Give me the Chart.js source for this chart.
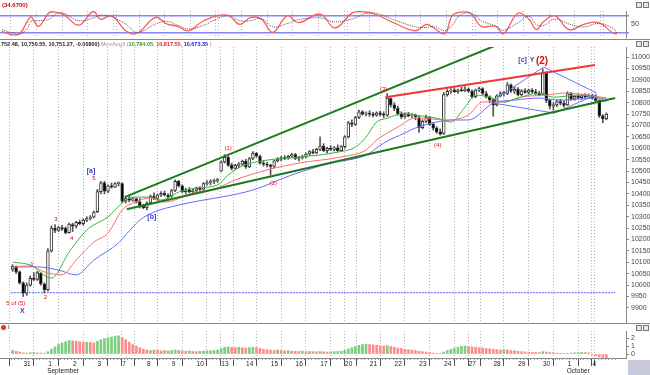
<!DOCTYPE html>
<html><head><meta charset="utf-8">
<script src="https://cdn.jsdelivr.net/npm/chart.js@4.4.1/dist/chart.umd.min.js"></script>
<style>
html,body{margin:0;padding:0;background:#fff;}
body{width:650px;height:375px;position:relative;overflow:hidden;}
canvas{position:absolute;left:0;}
.hl{position:absolute;left:0;width:650px;height:1px;}
</style></head><body>
<canvas id="osc" width="650" height="40" style="top:0px;width:650px;height:40px"></canvas>
<canvas id="main" width="650" height="283" style="top:40px;width:650px;height:283px"></canvas>
<canvas id="hist" width="650" height="52" style="top:323px;width:650px;height:52px"></canvas>
<div class="hl" style="top:39px;background:#8a8a8a"></div>
<div class="hl" style="top:323px;background:#8a8a8a"></div>
<div style="position:absolute;left:628px;top:360px;width:22px;height:15px;background:#c9c9dc"></div>
<script>
// ---------- data ----------
const dayStarts = [2.5,9.5,16.5,23.5,30.5,37.5,44.5,51.5,58.5,65.5,72.5,79.5,86.5,93.5,100.5,107.5,114.5,121.5,128.5,135.5,142.5,149.5,156.5,163.5];
const dayLabels = ['31','1','2','3','7','8','9','10','13','14','15','16','17','20','21','22','23','24','27','28','29','30','1','4'];
const weekStarts = [30.5,58.5,93.5,128.5,163.5];
const monthNames = ['September','October'];
const monthAt = [1,22];

const opens = [
10070,10080,10058,
10010,9965,10000,10030,10025,10052,10005,
9980,10150,10250,10240,10252,10250,10230,
10265,10258,10275,10270,10285,10292,10298,
10322,10410,10448,10412,10435,10430,10445,
10445,10368,10380,10372,10378,10365,10345,
10340,10360,10390,10380,10395,10402,10395,
10390,10415,10455,10435,10410,10418,10410,
10415,10425,10420,10445,10450,10455,10458,
10500,10540,10560,10525,10512,10525,10530,
10544,10518,10555,10578,10565,10535,10530,
10526,10520,10545,10552,10558,10555,10565,
10572,10555,10560,10562,10575,10585,10580,
10595,10610,10590,10600,10595,10602,10590,
10607,10650,10712,10705,10735,10760,10750,
10753,10750,10745,10755,10748,10745,10818,
10790,10775,10752,10738,10748,10742,10745,
10735,10690,10718,10735,10705,10688,10672,
10665,10835,10850,10855,10848,10856,10852,
10860,10850,10825,10855,10862,10840,10825,
10812,10790,10830,10840,10840,10878,10850,
10858,10835,10852,10845,10855,10848,10840,
10838,10930,10810,10785,10790,10805,10798,
10790,10840,10815,10828,10822,10830,10825,
10830,10820,10810,10742,10730];
const highs = [
10090,10085,10062,
10015,10010,10040,10055,10060,10055,10010,
10160,10260,10265,10258,10262,10255,10272,
10272,10280,10285,10290,10300,10305,10325,
10420,10455,10455,10440,10448,10450,10452,
10448,10385,10390,10385,10382,10380,10355,
10365,10395,10405,10400,10410,10412,10400,
10420,10462,10460,10440,10425,10428,10422,
10430,10432,10450,10458,10462,10465,10468,
10545,10572,10565,10535,10530,10538,10548,
10552,10560,10585,10582,10570,10545,10538,
10530,10548,10560,10565,10568,10570,10578,
10578,10565,10570,10580,10590,10595,10600,
10650,10620,10605,10612,10608,10615,10612,
10655,10718,10725,10740,10768,10765,10760,
10765,10758,10760,10762,10760,10840,10822,
10800,10785,10760,10755,10758,10752,10750,
10742,10725,10745,10740,10712,10695,10685,
10845,10858,10862,10865,10860,10868,10870,
10865,10856,10860,10868,10866,10850,10830,
10818,10835,10848,10850,10888,10882,10870,
10866,10858,10862,10860,10862,10858,10850,
10948,10935,10815,10800,10812,10815,10808,
10848,10845,10832,10838,10835,10840,10838,
10838,10835,10812,10748,10755];
const lows = [
10060,10050,10005,
9950,9955,9995,10020,10020,10000,9965,
9975,10145,10230,10235,10240,10225,10228,
10235,10250,10265,10262,10278,10285,10295,
10318,10400,10400,10405,10425,10428,10435,
10362,10360,10365,10368,10360,10338,10335,
10330,10355,10375,10372,10388,10390,10380,
10385,10410,10430,10405,10400,10405,10405,
10408,10415,10418,10438,10440,10445,10450,
10498,10535,10520,10505,10508,10515,10525,
10512,10515,10550,10560,10530,10522,10518,
10483,10515,10540,10545,10550,10552,10560,
10550,10545,10552,10558,10568,10575,10576,
10590,10585,10578,10590,10588,10585,10585,
10600,10645,10695,10700,10730,10745,10742,
10740,10738,10740,10742,10735,10740,10780,
10765,10745,10730,10732,10738,10735,10725,
10670,10685,10712,10700,10680,10665,10658,
10660,10828,10840,10845,10840,10850,10848,
10845,10820,10822,10848,10835,10820,10800,
10740,10785,10825,10828,10835,10845,10840,
10830,10830,10840,10838,10842,10835,10830,
10835,10800,10772,10768,10782,10790,10780,
10788,10810,10810,10818,10815,10820,10818,
10815,10800,10735,10712,10725];
const closes = [
10082,10058,10010,
9965,10000,10030,10025,10055,10005,9980,
10150,10250,10240,10252,10245,10230,10268,
10258,10275,10270,10285,10292,10298,10320,
10410,10448,10412,10435,10430,10445,10447,
10368,10380,10372,10378,10365,10345,10340,
10360,10390,10380,10395,10402,10395,10387,
10415,10455,10435,10410,10418,10410,10415,
10425,10420,10445,10450,10455,10458,10462,
10540,10560,10525,10512,10525,10530,10544,
10518,10555,10578,10565,10535,10530,10526,
10520,10545,10552,10558,10555,10565,10572,
10555,10560,10562,10575,10585,10580,10595,
10610,10590,10600,10595,10602,10590,10607,
10650,10712,10705,10735,10760,10750,10753,
10750,10745,10755,10748,10745,10820,10790,
10775,10752,10738,10748,10742,10745,10739,
10690,10718,10735,10705,10688,10672,10662,
10835,10850,10855,10848,10856,10852,10860,
10850,10825,10855,10862,10840,10825,10812,
10790,10830,10840,10845,10878,10850,10858,
10835,10852,10845,10855,10848,10840,10835,
10930,10810,10785,10790,10805,10798,10788,
10840,10815,10828,10822,10830,10825,10830,
10820,10810,10742,10730,10750];

const maGreenX = [0,5,11,16,21,23,27,31,34,39,42,47,52,58,61,65,72,81,92,97,100,103,106,111,114,120,124,128,131,135,139,143,149,153,160,165,168];
const maGreenY = [10101,10088,10031,10145,10242,10264,10299,10360,10386,10386,10373,10408,10426,10439,10483,10522,10548,10561,10583,10605,10649,10715,10732,10754,10745,10732,10715,10780,10833,10824,10802,10820,10842,10824,10833,10824,10805];
const maRedX = [0,5,9,14,18,23,27,31,34,39,43,51,58,63,72,81,93,100,103,109,114,123,129,133,139,144,151,156,163,168];
const maRedY = [10080,10084,10058,10045,10110,10189,10228,10329,10360,10382,10364,10404,10426,10461,10505,10535,10562,10592,10636,10693,10733,10724,10746,10803,10803,10825,10833,10842,10833,10820];
const maBlueX = [0,7,13,18,23,30,32,36,40,47,54,59,68,79,90,100,105,111,114,125,129,136,142,149,155,165,168];
const maBlueY = [10080,10080,10066,10045,10110,10185,10220,10285,10320,10351,10373,10386,10417,10483,10535,10570,10623,10667,10689,10724,10724,10798,10811,10820,10811,10820,10820];

const trendUpperX = [31.7,136.9];   const trendUpperY = [10386,11052];
const trendLowerX = [32.3,170.5];   const trendLowerY = [10333,10820];
const redLineX = [105.5,164.8];     const redLineY = [10824,10965];
const blueUpX = [136.1,150.3,165.3]; const blueUpY = [10811,10956,10842];
const blueLowX = [136.1,153.3,164.8]; const blueLowY = [10798,10754,10833];
const supportLevel = 9967;

const annText = ['5 of (5)','X','1','2','3','4','5','[a]','[b]','(1)','(2)','(3)','(4)','[c]','Y','(2)'];
const annX = [0.9,2.8,5.5,9.3,12.3,16.7,23,22.2,39.4,61,73.8,105,120.3,144.3,147,149.8];
const annY = [9922,9887,10093,9948,10290,10207,10469,10500,10299,10601,10448,10859,10614,10986,10986,10982];

const oscX = [0,3,5,7,8,10,13,15,17,21,25,27,30,34,37,42,45,48,51,55,59,62,65,68,71,74,78,81,87,91,96,100,103,107,113,116,118,121,123,125,128,131,135,137,141,144,146,148,151,155,159,163,167,168];
const oscFast = [24,11,17,61,76,42,92,92,84,46,96,67,80,24,17,74,51,42,26,61,80,80,49,74,67,20,80,55,86,36,92,92,80,55,26,49,36,15,80,92,89,42,42,15,89,67,30,59,80,30,49,55,17,14];
const oscSlow = [30,18,14,35,60,62,68,88,88,62,72,82,76,48,20,50,60,46,32,45,70,80,62,62,70,40,52,66,72,58,70,90,86,66,40,38,42,26,45,80,90,62,42,28,55,78,48,45,68,50,40,52,34,18];
const oscLevels = [20,50,80];

const histVals = [
0.45,0.35,0.25,
0.15,0.12,0.18,0.2,0.15,0.12,0.1,
0.3,0.6,0.9,1.2,1.4,1.55,1.7,
1.65,1.6,1.55,1.5,1.5,1.45,1.4,
1.6,1.8,1.95,2.05,2.15,2.25,2.3,
2.1,1.8,1.5,1.2,1.0,0.8,0.6,
0.5,0.45,0.5,0.45,0.4,0.45,0.4,
0.45,0.5,0.45,0.4,0.35,0.38,0.32,
0.3,0.33,0.36,0.4,0.42,0.45,0.5,
0.7,0.85,0.9,0.85,0.8,0.85,0.8,
0.75,0.8,0.85,0.8,0.7,0.6,0.55,
0.5,0.45,0.5,0.45,0.4,0.42,0.38,
0.35,0.33,0.35,0.3,0.32,0.3,0.28,
0.3,0.28,0.25,0.28,0.3,0.33,0.35,
0.45,0.65,0.8,0.95,1.1,1.2,1.25,
1.2,1.15,1.1,1.05,1.0,1.05,0.95,
0.85,0.75,0.7,0.6,0.55,0.5,0.45,
0.35,0.3,0.25,0.2,0.12,0.08,0.03,
0.25,0.45,0.6,0.75,0.85,0.95,1.0,
0.95,0.9,0.85,0.8,0.75,0.7,0.65,
0.6,0.55,0.5,0.55,0.5,0.45,0.4,
0.35,0.3,0.28,0.25,0.22,0.2,0.18,
0.3,0.25,0.2,0.15,0.12,0.1,0.08,
0.1,0.12,0.15,0.18,0.2,0.18,0.15,
-0.1,-0.2,-0.35,-0.45,-0.5];
const histTicks = [0,1,2];
const priceTicks = [];
for (let v = 9900; v <= 11000; v += 50) priceTicks.push(v);

// ---------- setup ----------
Chart.defaults.font.family = '"Liberation Sans", Arial, sans-serif';
Chart.defaults.font.size = 7;
Chart.defaults.color = '#333';
Chart.defaults.animation = false;
Chart.defaults.events = [];
Chart.defaults.plugins.legend.display = false;
Chart.defaults.plugins.tooltip.enabled = false;

const X_MIN = -0.5, X_MAX = 170.5, AXIS_W = 24;
const gridVals = dayStarts.concat(weekStarts.map(v => v + 0.8)).sort((a,b)=>a-b);
const pts = (xs, ys) => xs.map((x,k) => ({x, y: ys[k]}));
const idx = opens.map((_,i) => i);
const noPad = s => { s.paddingTop = 0; s.paddingBottom = 0; s.paddingLeft = 0; s.paddingRight = 0; };

function xGrid() {
  return {
    type:'linear', min:X_MIN, max:X_MAX, position:'bottom',
    afterBuildTicks: s => { s.ticks = gridVals.map(v => ({value:v})); },
    ticks:{display:false}, grid:{color:'#b5b5b5', drawTicks:false, lineWidth:1},
    border:{display:false, dash:[1,2]},
    afterFit: s => { s.height = 0; noPad(s); }
  };
}
function yRight(min, max, vals, cb, extra) {
  return Object.assign({
    type:'linear', position:'right', min, max,
    afterBuildTicks: s => { s.ticks = vals.map(v => ({value:v})); },
    afterFit: s => { s.width = AXIS_W; noPad(s); },
    ticks:{autoSkip:false, padding:2, font:{size:7}, color:'#444', callback: cb},
    grid:{drawOnChartArea:false, tickLength:3, color:'#888'},
    border:{display:true, color:'#888'}
  }, extra || {});
}
function drawTexts(ctx, segs, x, y) {
  ctx.save(); ctx.textBaseline = 'middle'; ctx.textAlign = 'left';
  segs.forEach(s => { ctx.font = s.f; ctx.fillStyle = s.c; ctx.fillText(s.t, x, y); x += ctx.measureText(s.t).width; });
  ctx.restore();
}
function icons(ctx, y) {
  ctx.save(); ctx.strokeStyle = '#777'; ctx.fillStyle = '#e8e8e8';
  [636, 643].forEach(x => { ctx.fillRect(x, y, 5, 5); ctx.strokeRect(x + 0.5, y + 0.5, 5, 5); });
  ctx.restore();
}

// ---------- oscillator panel ----------
new Chart(document.getElementById('osc'), {
  type:'line',
  data:{datasets:[
    {data:pts(oscX, oscSlow), borderColor:'#555', borderWidth:1, borderDash:[1,1], pointRadius:0, tension:0.4},
    {data:pts(oscX, oscFast), borderColor:'#ff5a5a', borderWidth:1.3, pointRadius:0, tension:0.4}
  ]},
  options:{responsive:false, layout:{padding:{top:11, bottom:2}},
    scales:{
      x: xGrid(),
      y: yRight(0, 97, oscLevels, v => v === 50 ? '50' : '', {
        grid:{drawOnChartArea:true, tickLength:3, lineWidth:1.5, color: c => c.tick && c.tick.value === 50 ? 'rgba(0,0,0,0)' : '#8585ff'}
      })
    }},
  plugins:[{id:'oschdr', afterDraw(ch){
    const ctx = ch.ctx;
    drawTexts(ctx, [{t:'(34.6700)', c:'#e00000', f:'bold 6px "Liberation Sans"'}], 2, 5);
    icons(ctx, 2);
  }}]
});

// ---------- main price panel ----------
const wickData = idx.map(i => ({x:i, y:[lows[i], highs[i]]}));
const bodyData = idx.map(i => ({x:i, y:[Math.min(opens[i],closes[i]), Math.max(opens[i],closes[i])]}));
const lineDs = (xs, ys, color, w, extra) => Object.assign({type:'line', data:pts(xs, ys), borderColor:color, borderWidth:w, pointRadius:0, tension:0}, extra||{});

new Chart(document.getElementById('main'), {
  type:'bar',
  data:{datasets:[
    lineDs([X_MIN, X_MAX], [supportLevel, supportLevel], '#7b7bff', 1.3, {order:9, borderDash:[2,1]}),
    {type:'bar', data:wickData, backgroundColor:'#555', grouped:false, maxBarThickness:1, barPercentage:1, categoryPercentage:1, order:8},
    {type:'bar', data:bodyData, grouped:false, maxBarThickness:3, barPercentage:1, categoryPercentage:1, minBarLength:1, order:7,
      backgroundColor: c => closes[c.dataIndex] >= opens[c.dataIndex] ? '#ffffff' : '#000000',
      borderColor:'#333', borderWidth:1, borderSkipped:false},
    lineDs(maBlueX, maBlueY, '#6a6aff', 1, {order:6, tension:0.4, cubicInterpolationMode:'monotone'}),
    lineDs(maRedX, maRedY, '#ff6a6a', 1, {order:5, tension:0.4, cubicInterpolationMode:'monotone'}),
    lineDs(maGreenX, maGreenY, '#3cb43c', 1, {order:4, tension:0.4, cubicInterpolationMode:'monotone'}),
    lineDs(blueUpX, blueUpY, '#7070f0', 1, {order:3}),
    lineDs(blueLowX, blueLowY, '#7070f0', 1, {order:3}),
    lineDs(trendUpperX, trendUpperY, '#1f7a1f', 2, {order:2}),
    lineDs(trendLowerX, trendLowerY, '#1f7a1f', 2, {order:2}),
    lineDs(redLineX, redLineY, '#f03535', 2, {order:2})
  ]},
  options:{responsive:false, layout:{padding:{top:7}},
    scales:{
      x: xGrid(),
      y: yRight(9834, 11044, priceTicks, v => String(v))
    }},
  plugins:[{id:'mainann', afterDatasetsDraw(ch){
    const ctx = ch.ctx, xs = ch.scales.x, ys = ch.scales.y;
    ctx.save(); ctx.textAlign = 'center'; ctx.textBaseline = 'middle';
    annText.forEach((t,k) => {
      const blue = /^(X|Y|\[)/.test(t);
      const big = k === annText.length - 1;
      ctx.font = big ? 'bold 10px "Liberation Sans"' : (blue ? 'bold 7px "Liberation Sans"' : '6px "Liberation Sans"');
      ctx.fillStyle = blue ? '#4040c0' : (/^\d$/.test(t) ? '#b02020' : '#e01010');
      ctx.fillText(t, xs.getPixelForValue(annX[k]), ys.getPixelForValue(annY[k]));
    });
    ctx.restore();
  }, afterDraw(ch){
    const ctx = ch.ctx;
    drawTexts(ctx, [
      {t:'752.48, 10,750.55, 10,751.27, -0.00800) ', c:'#222', f:'bold 5.5px "Liberation Sans"'},
      {t:'MovAvg3 (', c:'#b0b0b0', f:'bold 5.5px "Liberation Sans"'},
      {t:'10,784.05, ', c:'#2ca02c', f:'bold 5.5px "Liberation Sans"'},
      {t:'10,817.55, ', c:'#e02020', f:'bold 5.5px "Liberation Sans"'},
      {t:'10,673.35', c:'#2020e0', f:'bold 5.5px "Liberation Sans"'},
      {t:' )', c:'#b0b0b0', f:'bold 5.5px "Liberation Sans"'}
    ], 1, 4);
    icons(ctx, 1);
  }}]
});

// ---------- histogram panel ----------
new Chart(document.getElementById('hist'), {
  type:'bar',
  data:{datasets:[{
    data: idx.map(i => ({x:i, y:histVals[i]})),
    backgroundColor: c => (c.dataIndex > 0 && histVals[c.dataIndex] < histVals[c.dataIndex-1]) ? '#ff8c8c' : '#7ccf7c',
    maxBarThickness:2, barPercentage:1, categoryPercentage:1
  }]},
  options:{responsive:false, layout:{padding:{top:8}},
    scales:{
      x:{type:'linear', min:X_MIN, max:X_MAX, position:'bottom',
        afterBuildTicks: s => { s.ticks = gridVals.map(v => ({value:v})); },
        afterFit: s => { s.height = 17; noPad(s); },
        ticks:{display:false},
        grid:{color:'#b5b5b5', tickLength:8, tickColor:'#555', lineWidth:1},
        border:{display:true, color:'#888', dash:[1,2]}
      },
      y: yRight(-0.5, 2.9, histTicks, v => String(v))
    }},
  plugins:[{id:'histhdr', afterDraw(ch){
    const ctx = ch.ctx, xs = ch.scales.x, ca = ch.chartArea;
    ctx.save(); ctx.fillStyle = '#e03030'; ctx.beginPath(); ctx.arc(3.5, 4.5, 2.5, 0, Math.PI*2); ctx.fill(); ctx.restore();
    drawTexts(ctx, [{t:'I', c:'#333', f:'6px "Liberation Sans"'}], 8, 4.5);
    icons(ctx, 2);
    // hourly minor ticks along the time axis
    ctx.save(); ctx.strokeStyle = '#999'; ctx.lineWidth = 1; ctx.beginPath();
    for (let v = X_MIN; v <= X_MAX; v += 1) { const px = Math.round(xs.getPixelForValue(v)) + 0.5; ctx.moveTo(px, ca.bottom); ctx.lineTo(px, ca.bottom + 2); }
    ctx.stroke();
    // day / month labels to the right of each day tick
    ctx.fillStyle = '#222'; ctx.textAlign = 'left'; ctx.textBaseline = 'middle';
    dayStarts.forEach((v,k) => {
      const px = xs.getPixelForValue(v);
      ctx.font = '6.5px "Liberation Sans"';
      ctx.fillText(dayLabels[k], px + 2, ca.bottom + 6);
      const m = monthAt.indexOf(k);
      if (m >= 0) ctx.fillText(monthNames[m], px + 1, ca.bottom + 13);
    });
    ctx.restore();
  }}]
});
</script>
</body></html>
